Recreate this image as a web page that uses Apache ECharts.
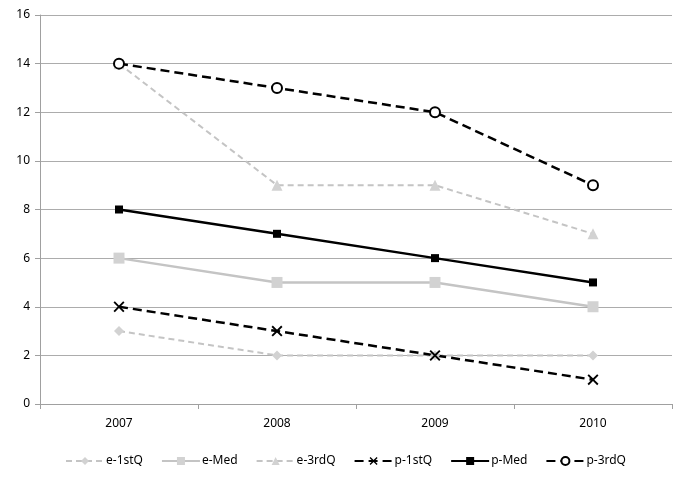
<!DOCTYPE html>
<html><head><meta charset="utf-8">
<script src="https://cdn.jsdelivr.net/npm/echarts@6/dist/echarts.min.js"></script>
<style>html,body{margin:0;padding:0;background:#fff}#c{width:691px;height:485px}</style>
</head><body><div id="c"></div>
<script>
var categories = ['2007', '2008', '2009', '2010'];
var e1stQ = [3, 2, 2, 2];
var eMed = [6, 5, 5, 4];
var e3rdQ = [14, 9, 9, 7];
var p1stQ = [4, 3, 2, 1];
var pMed = [8, 7, 6, 5];
var p3rdQ = [14, 13, 12, 9];

var xPath = 'path://M0,1.2L1.2,0L5,3.8L8.8,0L10,1.2L6.2,5L10,8.8L8.8,10L5,6.2L1.2,10L0,8.8L3.8,5Z';
var font = 'Noto Sans';
function s(name, data, color, type, width, symbol, size, fill, border) {
  return {
    name: name, type: 'line', data: data, symbol: symbol, symbolSize: size,
    lineStyle: { color: color, type: type, width: width },
    itemStyle: { color: fill, borderColor: border || fill, borderWidth: border ? 2 : 0 },
    emphasis: { disabled: true }
  };
}
var chart = echarts.init(document.getElementById('c'));
chart.setOption({
  animation: false,
  textStyle: { fontFamily: font },
  grid: { left: 40, right: 19, top: 15, bottom: 81 },
  legend: {
    bottom: 13, left: 'center', itemWidth: 38, itemHeight: 10, itemGap: 18,
    textStyle: { fontFamily: font, fontSize: 12, color: '#000', padding: [0, 0, 0, -3] },
    data: ['e-1stQ', 'e-Med', 'e-3rdQ', 'p-1stQ', 'p-Med', 'p-3rdQ']
  },
  xAxis: {
    type: 'category', data: categories, boundaryGap: true,
    axisLine: { lineStyle: { color: '#a0a0a0' } },
    axisTick: { show: true, length: 5, lineStyle: { color: '#a0a0a0' } },
    axisLabel: { color: '#000', fontSize: 12, margin: 14, fontFamily: font }
  },
  yAxis: {
    type: 'value', min: 0, max: 16, interval: 2,
    axisLine: { show: true, lineStyle: { color: '#a0a0a0' } },
    axisTick: { show: true, length: 5, lineStyle: { color: '#a0a0a0' } },
    axisLabel: { color: '#000', fontSize: 12, margin: 10, fontFamily: font },
    splitLine: { lineStyle: { color: '#acacac', width: 1 } }
  },
  series: [
    s('e-1stQ', e1stQ, '#c4c4c4', [6, 4], 2, 'diamond', 10, '#d2d2d2'),
    s('e-Med', eMed, '#c4c4c4', 'solid', 2.5, 'rect', 11, '#d2d2d2'),
    s('e-3rdQ', e3rdQ, '#c4c4c4', [6, 4], 2, 'triangle', 11, '#d2d2d2'),
    s('p-1stQ', p1stQ, '#000', [9, 5], 2.5, xPath, 11, '#000'),
    s('p-Med', pMed, '#000', 'solid', 2.5, 'rect', 8, '#000'),
    s('p-3rdQ', p3rdQ, '#000', [9, 5], 2.5, 'circle', 10, '#fff', '#000')
  ]
});
</script></body></html>
